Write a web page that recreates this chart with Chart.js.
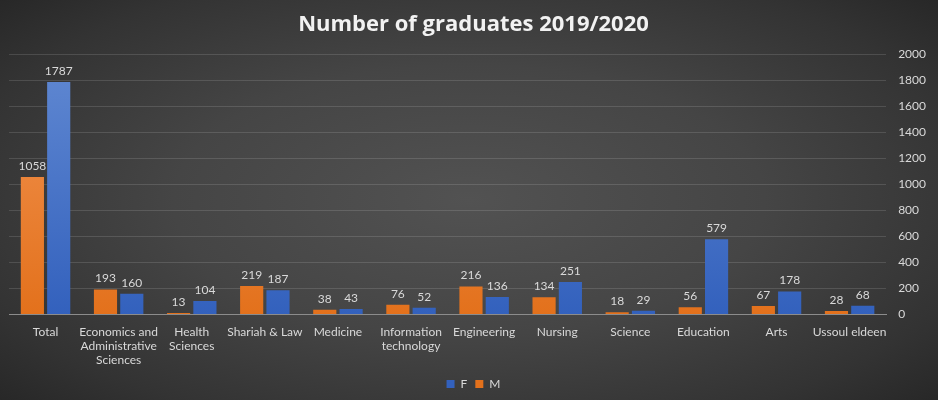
<!DOCTYPE html>
<html>
<head>
<meta charset="utf-8">
<script src="https://cdn.jsdelivr.net/npm/chart.js@4.4.0/dist/chart.umd.min.js"></script>
<style>
html,body{margin:0;padding:0;}
#wrap{width:938px;height:400px;position:relative;
background:radial-gradient(ellipse 70% 75% at 50% 50%, #525252 0%, #454545 45%, #333333 80%, #262626 100%);}
</style>
</head>
<body>
<div id="wrap"><canvas id="c" width="938" height="400"></canvas></div>
<script>
const categories = ["Total", ["Economics and", "Administrative", "Sciences"], ["Health", "Sciences"], "Shariah & Law", "Medicine", ["Information", "technology"], "Engineering", "Nursing", "Science", "Education", "Arts", "Ussoul eldeen"];
const maleValues = [1058, 193, 13, 219, 38, 76, 216, 134, 18, 56, 67, 28];
const femaleValues = [1787, 160, 104, 187, 43, 52, 136, 251, 29, 579, 178, 68];
const yTicks = [0, 200, 400, 600, 800, 1000, 1200, 1400, 1600, 1800, 2000];

function grad(top, bottom) {
  return (ctx) => {
    const chart = ctx.chart;
    const a = chart.chartArea;
    if (!a) return bottom;
    const g = chart.ctx.createLinearGradient(0, a.top, 0, a.bottom);
    g.addColorStop(0, top);
    g.addColorStop(1, bottom);
    return g;
  };
}

const valueLabels = {
  id: 'valueLabels',
  afterDatasetsDraw(chart) {
    const ctx = chart.ctx;
    ctx.save();
    ctx.font = '12px Lato, "Open Sans", sans-serif';
    ctx.fillStyle = '#d9d9d9';
    ctx.textAlign = 'center';
    ctx.textBaseline = 'bottom';
    chart.data.datasets.forEach((ds, i) => {
      const meta = chart.getDatasetMeta(i);
      meta.data.forEach((el, j) => {
        ctx.fillText(String(ds.data[j]), el.x, el.y - 5);
      });
    });
    ctx.restore();
  }
};

new Chart(document.getElementById('c'), {
  type: 'bar',
  data: {
    labels: categories,
    datasets: [
      { label: 'M', data: maleValues, backgroundColor: grad('#f29554', '#e3711c'), barPercentage: 0.88, categoryPercentage: 0.72 },
      { label: 'F', data: femaleValues, backgroundColor: grad('#6189d2', '#3361bd'), barPercentage: 0.88, categoryPercentage: 0.72 }
    ]
  },
  options: {
    responsive: false,
    animation: false,
    layout: { padding: { left: 9, right: 0, top: 0, bottom: 0 } },
    plugins: {
      title: {
        display: true,
        text: 'Number of graduates 2019/2020',
        color: '#f2f2f2',
        font: { family: '"Open Sans", sans-serif', size: 22, weight: 'bold' },
        padding: { top: 12, bottom: 16 }
      },
      legend: {
        position: 'bottom',
        labels: {
          color: '#d9d9d9',
          boxWidth: 8, boxHeight: 8,
          font: { family: 'Lato, sans-serif', size: 12 },
          padding: 8,
          sort: (a, b) => b.datasetIndex - a.datasetIndex
        }
      },
      tooltip: { enabled: false }
    },
    scales: {
      x: {
        grid: { display: false },
        border: { color: '#8c8c8c', width: 1 },
        ticks: { color: '#d9d9d9', font: { family: 'Lato, sans-serif', size: 12, lineHeight: 1.15 }, maxRotation: 0, autoSkip: false, padding: 3 }
      },
      y: {
        position: 'right',
        min: 0, max: 2000,
        afterBuildTicks: (axis) => { axis.ticks = yTicks.map(v => ({ value: v })); },
        grid: { color: 'rgba(255,255,255,0.13)', drawTicks: false },
        border: { display: false },
        ticks: { color: '#d9d9d9', font: { family: 'Lato, sans-serif', size: 12 }, padding: 12, callback: (v) => String(v) }
      }
    }
  },
  plugins: [valueLabels]
});
</script>
</body>
</html>
